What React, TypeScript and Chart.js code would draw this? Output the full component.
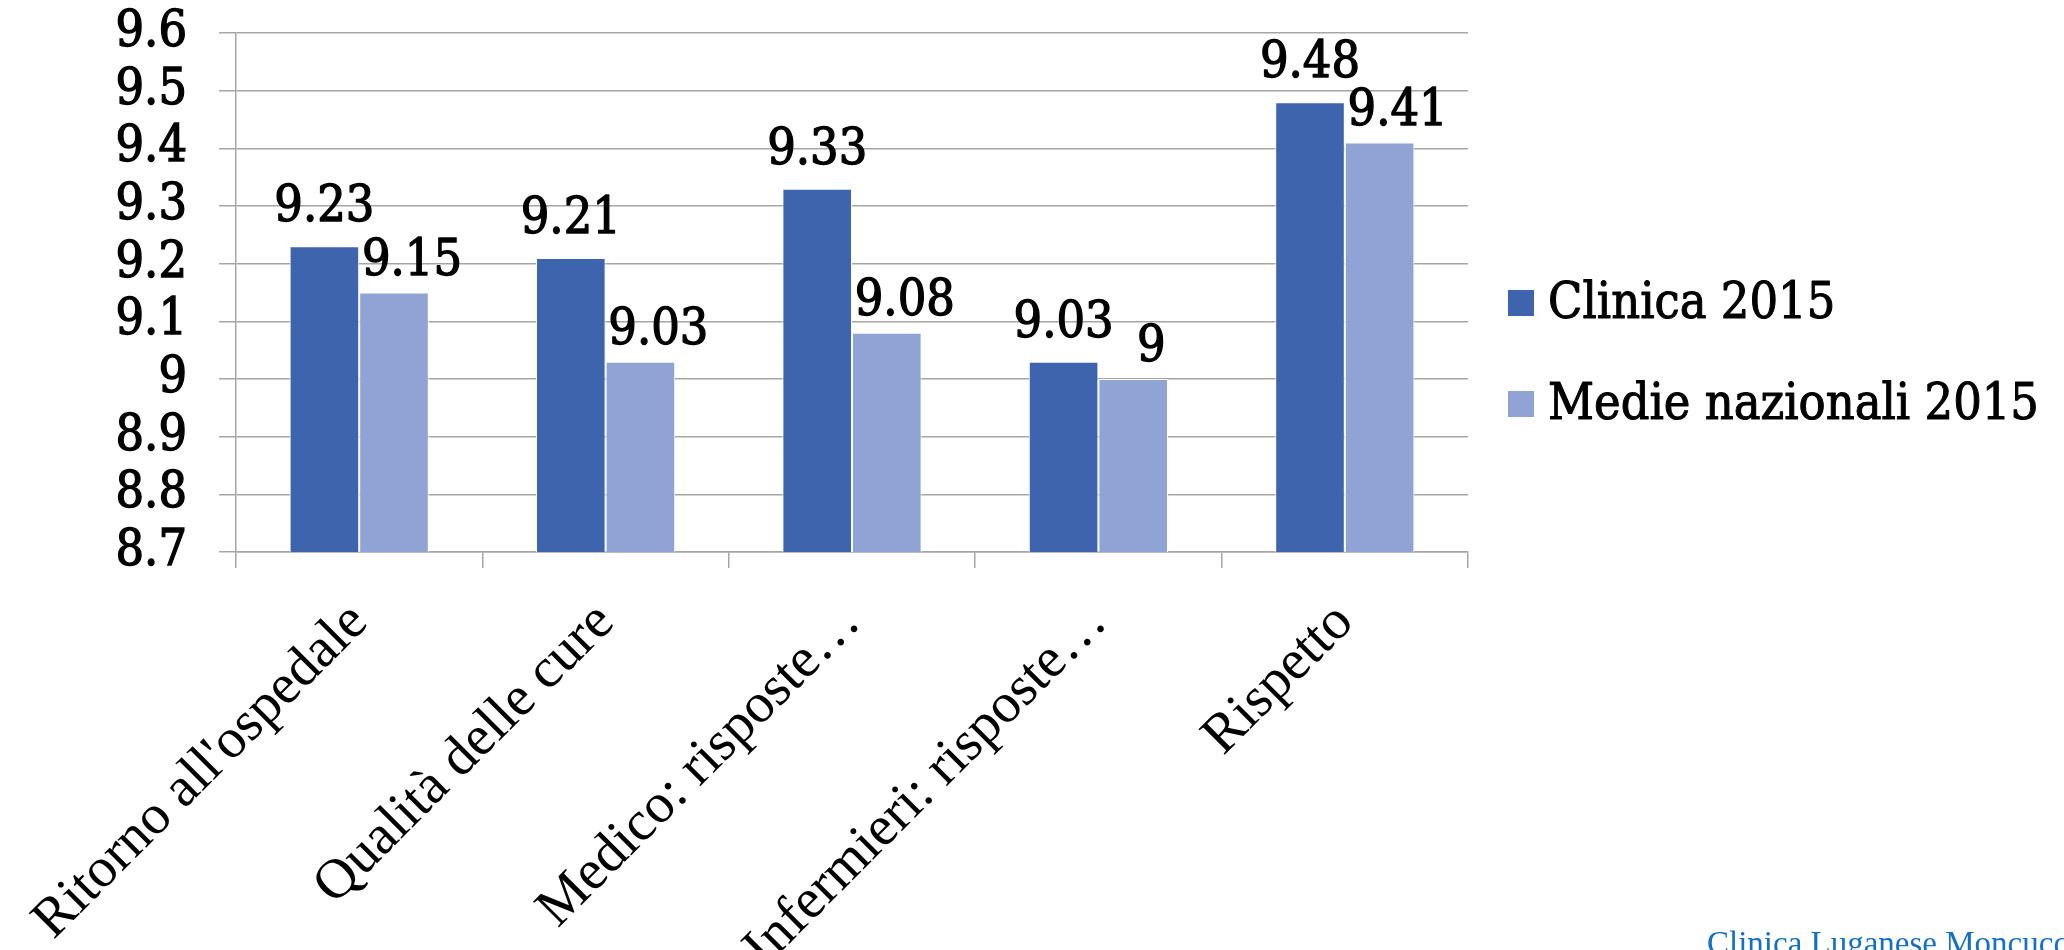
import React, { useEffect, useRef } from 'react';
import { Chart, registerables } from 'chart.js';

Chart.register(...registerables);

const categories = [
  "Ritorno all'ospedale",
  'Qualità delle cure',
  'Medico: risposte…',
  'Infermieri: risposte…',
  'Rispetto',
];
const seriesNames = ['Clinica 2015', 'Medie nazionali 2015'];
const clinica2015 = [9.23, 9.21, 9.33, 9.03, 9.48];
const medieNazionali2015 = [9.15, 9.03, 9.08, 9.0, 9.41];
const yTickValues = [8.7, 8.8, 8.9, 9.0, 9.1, 9.2, 9.3, 9.4, 9.5, 9.6];
const footerText = 'Clinica Luganese Moncucco';

const NUM_FONT = "'DejaVu Serif Condensed', 'DejaVu Serif', serif";
const CAT_FONT = "'Liberation Serif', serif";
const GRID = '#a6a6a6';
const COLORS = ['#3d64ac', '#8fa4d4'];
const STROKE = 1.3;
const LABEL_OFFSETS = [
  { dx: 0, gap: 25 },
  { dx: 18, gap: 18 },
];

const valueLabels = {
  id: 'valueLabels',
  afterDatasetsDraw(chart: any) {
    const { ctx } = chart;
    ctx.save();
    ctx.font = `50px ${NUM_FONT}`;
    ctx.fillStyle = '#000';
    ctx.strokeStyle = '#000';
    ctx.lineWidth = STROKE;
    ctx.lineJoin = 'round';
    ctx.textAlign = 'center';
    ctx.textBaseline = 'alphabetic';
    chart.data.datasets.forEach((ds: any, i: number) => {
      const meta = chart.getDatasetMeta(i);
      const off = LABEL_OFFSETS[i];
      meta.data.forEach((bar: any, j: number) => {
        const v = ds.data[j];
        const t = String(Number(v.toFixed(2)));
        const x = bar.x + off.dx;
        const y = bar.y - off.gap;
        ctx.strokeText(t, x, y);
        ctx.fillText(t, x, y);
      });
    });
    ctx.restore();
  },
};

const sideLegend = {
  id: 'sideLegend',
  afterDraw(chart: any) {
    const { ctx, chartArea } = chart;
    const box = 26;
    const x = chartArea.right + 40;
    ctx.save();
    ctx.font = `50px ${NUM_FONT}`;
    ctx.textAlign = 'left';
    ctx.textBaseline = 'middle';
    ctx.lineWidth = 1.0;
    ctx.lineJoin = 'round';
    chart.data.datasets.forEach((ds: any, i: number) => {
      const y = chartArea.top + 270 + i * 101;
      ctx.fillStyle = ds.backgroundColor;
      ctx.fillRect(x, y - box / 2, box, box);
      ctx.fillStyle = '#000';
      ctx.strokeStyle = '#000';
      ctx.strokeText(ds.label, x + box + 14, y + 2);
      ctx.fillText(ds.label, x + box + 14, y + 2);
    });
    ctx.restore();
  },
};

export default function App() {
  const canvasRef = useRef<HTMLCanvasElement | null>(null);

  useEffect(() => {
    const canvas = canvasRef.current;
    if (!canvas) return;
    const chart = new Chart(canvas, {
      type: 'bar',
      data: {
        labels: categories,
        datasets: [
          {
            label: seriesNames[0],
            data: clinica2015,
            backgroundColor: COLORS[0],
            borderColor: '#ffffff',
            borderWidth: 1,
            barPercentage: 1,
            categoryPercentage: 0.565,
          },
          {
            label: seriesNames[1],
            data: medieNazionali2015,
            backgroundColor: COLORS[1],
            borderColor: '#ffffff',
            borderWidth: 1,
            barPercentage: 1,
            categoryPercentage: 0.565,
          },
        ],
      },
      options: {
        animation: false,
        responsive: false,
        devicePixelRatio: 1,
        layout: { padding: { top: 33, right: 596, left: 0, bottom: 0 } },
        plugins: {
          legend: { display: false },
          tooltip: { enabled: false },
        },
        scales: {
          x: {
            grid: {
              offset: true,
              drawOnChartArea: false,
              drawTicks: true,
              tickLength: 16,
              color: GRID,
              lineWidth: 1.5,
            },
            border: { display: true, color: GRID, width: 1.5 },
            ticks: {
              color: '#000',
              font: { family: CAT_FONT, size: 56 },
              maxRotation: 45,
              minRotation: 45,
              autoSkip: false,
              padding: 22,
            },
            afterFit: (s: any) => {
              s.height = 398;
              s.paddingLeft = 0;
              s.paddingRight = 0;
            },
          },
          y: {
            min: 8.7,
            max: 9.6,
            grid: {
              color: GRID,
              lineWidth: 1.5,
              drawTicks: true,
              tickLength: 17,
            },
            border: { display: true, color: GRID, width: 1.5 },
            ticks: {
              color: '#000',
              font: { family: NUM_FONT, size: 50 },
              textStrokeColor: '#000',
              textStrokeWidth: STROKE,
              padding: 32,
              autoSkip: false,
              callback: (v: any) => String(Number(Number(v).toFixed(2))),
            },
            afterBuildTicks: (s: any) => {
              s.ticks = yTickValues.map((v) => ({ value: v }));
            },
            afterFit: (s: any) => {
              s.width = 236;
              s.paddingTop = 0;
              s.paddingBottom = 0;
            },
          },
        },
      },
      plugins: [valueLabels, sideLegend],
    });
    return () => chart.destroy();
  }, []);

  return (
    <div
      style={{
        position: 'fixed',
        left: 0,
        top: 0,
        width: 2064,
        height: 950,
        overflow: 'hidden',
        background: '#fff',
      }}
    >
      <canvas ref={canvasRef} width={2064} height={950} style={{ display: 'block' }} />
      <div
        style={{
          position: 'absolute',
          left: 1707,
          top: 927,
          fontFamily: "'Liberation Serif', serif",
          fontSize: 33,
          lineHeight: 1,
          color: '#1570c2',
          whiteSpace: 'nowrap',
        }}
      >
        {footerText}
      </div>
    </div>
  );
}
